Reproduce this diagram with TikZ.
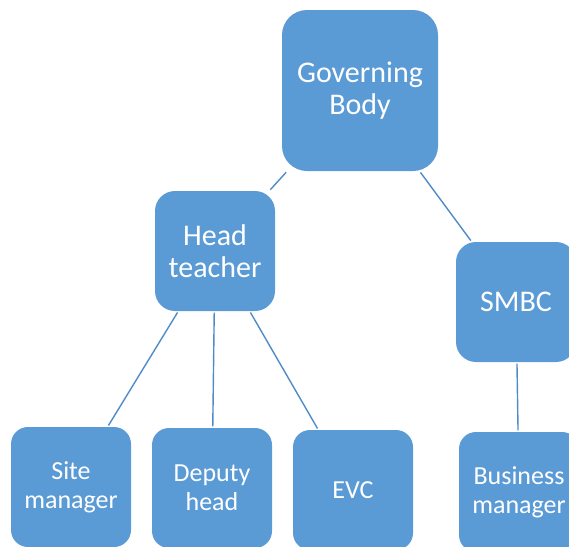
\documentclass[tikz,border=0pt]{standalone}
\usepackage{fontspec}
\setmainfont{Carlito}
\usepackage{tikz}

\definecolor{boxblue}{HTML}{5B9BD5}
\definecolor{lineblue}{HTML}{4F8CC7}

\begin{document}
\begin{tikzpicture}[x=1pt,y=1pt]
    \tikzstyle{bigbox} = [fill=boxblue, rounded corners=20pt, text=white, align=center, font=\fontsize{30}{32.5}\selectfont]
    \tikzstyle{smallbox} = [fill=boxblue, rounded corners=17pt, text=white, align=center, minimum width=120pt, minimum height=120pt, font=\fontsize{26}{29}\selectfont]
    \tikzstyle{link} = [lineblue, line width=1.4pt, shorten <=1.5pt, shorten >=1.5pt]
    \useasboundingbox (0,0) rectangle (569,-546);
    \clip (0,0) rectangle (569,-546);

    % Top box
    \node [bigbox, minimum width=156pt, minimum height=161pt, rounded corners=25pt] (Governing) at (360,-90.5) {Governing\\Body};

    % One step down, left box
    \node [bigbox, minimum width=120pt, minimum height=120pt] (Head) at (215,-251) {Head\\teacher};
    \draw [link] (Governing) -- (Head);

    % One step down, right box
    \node [bigbox, minimum width=120pt, minimum height=120pt] (SMBC) at (516,-302) {SMBC};
    \draw [link] (Governing) -- (SMBC);

      % Two steps down, Head is parent
      \node [smallbox] (Site) at (71,-487) {Site\\manager};
      \draw [link] (Head) -- (Site);

      \node [smallbox] (Deputy) at (212,-488) {Deputy\\head};
      \draw [link] (Head) -- (Deputy);

      \node [smallbox] (EVC) at (353,-490) {EVC};
      \draw [link] (Head) -- (EVC);

      % Two steps down, SMBC is parent
      \node [smallbox] (Business) at (519,-492) {Business\\manager};
      \draw [link] (SMBC) -- (Business);
\end{tikzpicture}
\end{document}
